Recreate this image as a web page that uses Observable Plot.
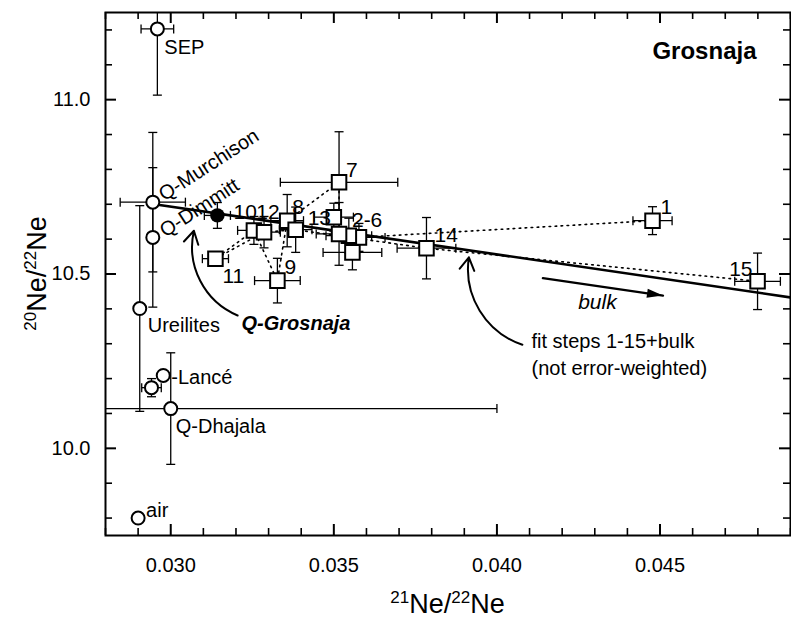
<!DOCTYPE html>
<html>
<head>
<meta charset="utf-8">
<script src="https://cdn.jsdelivr.net/npm/d3@7"></script>
<script src="https://cdn.jsdelivr.net/npm/@observablehq/plot@0.6"></script>
<style>
  body { margin: 0; background: #fff; }
  svg { display: block; }
</style>
</head>
<body>
<div id="chart"></div>
<script>
// Reference neon compositions (open circles)
const refName  = ["SEP", "Q-Murchison", "Q-Dimmitt", "Ureilites", "Lancé", "", "Q-Dhajala", "air"];
const refX21   = [0.02959, 0.02945, 0.02945, 0.02905, 0.02977, 0.02941, 0.03000, 0.02900];
const refY20   = [11.203, 10.706, 10.605, 10.401, 10.209, 10.174, 10.114, 9.800];
const refErrX  = [0.0005, 0.0010, 0, 0, 0, 0.0003, 0.0100, 0];
const refErrY  = [0.19, 0.20, 0.20, 0.295, 0, 0.026, 0.16, 0];

// Grosnaja stepwise heating, steps 1-15 (open squares)
const stepNo   = [1, 2, 3, 4, 5, 6, 7, 8, 9, 10, 11, 12, 13, 14, 15];
const stepX21  = [0.04477, 0.03577, 0.03546, 0.03557, 0.03500, 0.03516, 0.03516, 0.03357, 0.03327, 0.03255, 0.03137, 0.03286, 0.03383, 0.03784, 0.04799];
const stepY20  = [10.653, 10.605, 10.610, 10.562, 10.663, 10.615, 10.763, 10.653, 10.481, 10.625, 10.544, 10.620, 10.627, 10.574, 10.479];
const stepErrX = [0.0006, 0.0008, 0.0007, 0.0009, 0.0006, 0.0007, 0.0018, 0.0005, 0.0007, 0.0005, 0.0004, 0.0005, 0.0005, 0.0009, 0.0007];
const stepErrY = [0.040, 0.040, 0.050, 0.050, 0.040, 0.090, 0.145, 0.075, 0.064, 0.040, 0.020, 0.045, 0.065, 0.088, 0.081];

// Step labels ("2-6" marks the cluster of steps 2 to 6)
const stepLabelText = ["1", "2-6", "7", "8", "9", "10", "11", "12", "13", "14", "15"];
const stepLabelStep = [1, 2, 7, 8, 9, 10, 11, 12, 13, 14, 15];

// Q-Grosnaja (filled circle)
const qGrosX21 = 0.03143, qGrosY20 = 10.668, qGrosErrX = 0.0004, qGrosErrY = 0.037;

// Line fitted through steps 1-15 + bulk
const fitX21 = [0.0295, 0.0495];
const fitY20 = [10.700, 10.426];

// Arrow pointing towards the bulk composition
const bulkArrowX21 = [0.04141, 0.04509];
const bulkArrowY20 = [10.488, 10.438];

// Axis ticks
const xMajor = [0.030, 0.035, 0.040, 0.045];
const xMinor = [0.028, 0.029, 0.031, 0.032, 0.033, 0.034, 0.036, 0.037, 0.038, 0.039, 0.041, 0.042, 0.043, 0.044, 0.046, 0.047, 0.048, 0.049];
const yMajor = [10.0, 10.5, 11.0];
const yMinor = [9.8, 9.9, 10.1, 10.2, 10.3, 10.4, 10.6, 10.7, 10.8, 10.9, 11.1, 11.2];

// ---- layout & styling ----
const W = 791, H = 619;
const M = {left: 105, right: 1, top: 12, bottom: 84};
const frameW = W - M.left - M.right, frameH = H - M.top - M.bottom;
const xDomain = [0.028, 0.049], yDomain = [9.75, 11.25];
const FONT = "'Liberation Sans', Arial, Helvetica, sans-serif";

const refLabelStyle = {
  "SEP":         {dx: 7,  dy: 19, anchor: "start"},
  "Q-Murchison": {dx: 8,  dy: -6, anchor: "start", rotate: -33},
  "Q-Dimmitt":   {dx: 9,  dy: -5, anchor: "start", rotate: -33},
  "Ureilites":   {dx: 8,  dy: 17, anchor: "start"},
  "Lancé":       {dx: 8,  dy: 2,  anchor: "start", prefix: "-"},
  "Q-Dhajala":   {dx: 5,  dy: 18, anchor: "start"},
  "air":         {dx: 8,  dy: -7, anchor: "start"}
};
const stepLabelStyle = {
  "1":   {dx: 8,  dy: -13, anchor: "start"},
  "2-6": {dx: -7, dy: -17, anchor: "start"},
  "7":   {dx: 7,  dy: -12, anchor: "start"},
  "8":   {dx: 5,  dy: -13, anchor: "start"},
  "9":   {dx: 7,  dy: -13, anchor: "start"},
  "10":  {dx: 3,  dy: -18, anchor: "end"},
  "11":  {dx: 7,  dy: 18,  anchor: "start"},
  "12":  {dx: 4,  dy: -20, anchor: "middle"},
  "13":  {dx: 12, dy: -11, anchor: "start"},
  "14":  {dx: 8,  dy: -13, anchor: "start"},
  "15":  {dx: -5, dy: -12, anchor: "end"}
};

// ---- assemble records ----
const refs = refName.map((name, i) => ({name, x: refX21[i], y: refY20[i], ex: refErrX[i], ey: refErrY[i]}));
const steps = stepNo.map((n, i) => ({n, x: stepX21[i], y: stepY20[i], ex: stepErrX[i], ey: stepErrY[i]}));
const qg = {x: qGrosX21, y: qGrosY20, ex: qGrosErrX, ey: qGrosErrY};
const all = [...refs, ...steps, qg];
const withEx = all.filter(d => d.ex > 0);
const withEy = all.filter(d => d.ey > 0);
const fit = fitX21.map((x, i) => ({x, y: fitY20[i]}));
const bulkArrow = bulkArrowX21.map((x, i) => ({x, y: bulkArrowY20[i]}));

// error-bar caps and arrow head as custom symbols
const capH = {draw(c) { c.moveTo(-4.5, 0); c.lineTo(4.5, 0); }};
const capV = {draw(c) { c.moveTo(0, -4.5); c.lineTo(0, 4.5); }};
const head = {draw(c) { c.moveTo(0, 0); c.lineTo(-16, -4.5); c.lineTo(-16, 4.5); c.closePath(); }};
const pxX = frameW / (xDomain[1] - xDomain[0]), pxY = frameH / (yDomain[1] - yDomain[0]);
const headAngle = Math.atan2(-(bulkArrow[1].y - bulkArrow[0].y) * pxY, (bulkArrow[1].x - bulkArrow[0].x) * pxX) * 180 / Math.PI;

// annotation texts
const annotations = [
  {text: "Q-Grosnaja", x: 0.03217, y: 10.358, style: "italic", weight: "bold", anchor: "start", size: 20},
  {text: "bulk", x: 0.04308, y: 10.418, style: "italic", weight: "normal", anchor: "middle", size: 21},
  {text: "fit steps 1-15+bulk", x: 0.04106, y: 10.306, style: "normal", weight: "normal", anchor: "start", size: 20},
  {text: "(not error-weighted)", x: 0.04106, y: 10.229, style: "normal", weight: "normal", anchor: "start", size: 20}
];
const curvedArrows = [
  {x1: 0.03205, y1: 10.381, x2: 0.03071, y2: 10.624},
  {x1: 0.04078, y1: 10.297, x2: 0.03914, y2: 10.548}
];

const marks = [
  // inward ticks on all four sides
  Plot.ruleX(xMinor, {x: d => d, insetTop: frameH - 7, strokeWidth: 1.6}),
  Plot.ruleX(xMajor, {x: d => d, insetTop: frameH - 11, strokeWidth: 2}),
  Plot.ruleX(xMinor, {x: d => d, insetBottom: frameH - 7, strokeWidth: 1.6}),
  Plot.ruleX(xMajor, {x: d => d, insetBottom: frameH - 11, strokeWidth: 2}),
  Plot.ruleY(yMinor, {y: d => d, insetRight: frameW - 7, strokeWidth: 1.6}),
  Plot.ruleY(yMajor, {y: d => d, insetRight: frameW - 11, strokeWidth: 2}),
  Plot.ruleY(yMinor, {y: d => d, insetLeft: frameW - 7, strokeWidth: 1.6}),
  Plot.ruleY(yMajor, {y: d => d, insetLeft: frameW - 11, strokeWidth: 2}),
  Plot.axisX({ticks: xMajor, tickSize: 0, tickPadding: 22, tickFormat: d => d.toFixed(3), label: null, fontSize: 20}),
  Plot.axisY({ticks: yMajor, tickSize: 0, tickPadding: 15, tickFormat: d => d.toFixed(1), label: null, fontSize: 20}),

  // error bars
  Plot.link(withEx, {x1: d => d.x - d.ex, x2: d => d.x + d.ex, y1: "y", y2: "y", stroke: "black", strokeWidth: 1.3, clip: true}),
  Plot.link(withEy, {x1: "x", x2: "x", y1: d => d.y - d.ey, y2: d => d.y + d.ey, stroke: "black", strokeWidth: 1.3, clip: true}),
  Plot.dot(withEx.flatMap(d => [{x: d.x - d.ex, y: d.y}, {x: d.x + d.ex, y: d.y}]),
    {x: "x", y: "y", symbol: capV, fill: "none", stroke: "black", strokeWidth: 1.3, clip: true}),
  Plot.dot(withEy.flatMap(d => [{x: d.x, y: d.y - d.ey}, {x: d.x, y: d.y + d.ey}]),
    {x: "x", y: "y", symbol: capH, fill: "none", stroke: "black", strokeWidth: 1.3, clip: true}),

  // dotted path joining the heating steps in order
  Plot.line(steps, {x: "x", y: "y", stroke: "black", strokeWidth: 1.6, strokeDasharray: "1.6 4.4", clip: true}),

  // fit line
  Plot.line(fit, {x: "x", y: "y", stroke: "black", strokeWidth: 2.6, clip: true}),

  // bulk arrow
  Plot.line(bulkArrow, {x: "x", y: "y", stroke: "black", strokeWidth: 2.4}),
  Plot.dot([bulkArrow[1]], {x: "x", y: "y", symbol: head, fill: "black", stroke: "none", rotate: headAngle}),

  // curved annotation arrows
  Plot.arrow(curvedArrows, {x1: "x1", y1: "y1", x2: "x2", y2: "y2", bend: 40, stroke: "black", strokeWidth: 2, headLength: 11}),

  // markers
  Plot.dot(steps, {x: "x", y: "y", symbol: "square", r: 8.2, fill: "white", stroke: "black", strokeWidth: 2}),
  Plot.dot(refs, {x: "x", y: "y", r: 6.5, fill: "white", stroke: "black", strokeWidth: 2}),
  Plot.dot([qg], {x: "x", y: "y", r: 7.2, fill: "black"}),

  // panel title
  Plot.text(["Grosnaja"], {frameAnchor: "top-right", text: d => d, dx: -34, dy: 39, textAnchor: "end", lineAnchor: "middle", fontWeight: "bold", fontSize: 24}),

  // reference labels
  ...refs.filter(d => d.name).map(d => {
    const s = refLabelStyle[d.name];
    return Plot.text([d], {x: "x", y: "y", text: e => (s.prefix || "") + e.name, dx: s.dx, dy: s.dy,
      textAnchor: s.anchor, lineAnchor: "middle", rotate: s.rotate || 0, fontSize: 20});
  }),

  // step labels
  ...stepLabelText.map((t, i) => {
    const s = stepLabelStyle[t];
    const d = steps.find(e => e.n === stepLabelStep[i]);
    return Plot.text([d], {x: "x", y: "y", text: () => t, dx: s.dx, dy: s.dy, textAnchor: s.anchor, lineAnchor: "middle", fontSize: 21});
  }),

  // annotation texts
  ...annotations.map(a => Plot.text([a], {x: "x", y: "y", text: "text", textAnchor: a.anchor, lineAnchor: "middle",
    fontStyle: a.style, fontWeight: a.weight, fontSize: a.size})),

  Plot.frame({stroke: "black", strokeWidth: 2})
];

const svgNode = Plot.plot({
  width: W, height: H,
  marginLeft: M.left, marginRight: M.right, marginTop: M.top, marginBottom: M.bottom,
  x: {domain: xDomain, axis: null},
  y: {domain: yDomain, axis: null},
  style: {fontFamily: FONT, fontSize: "20px", color: "black", background: "white", overflow: "visible"},
  marks
});

// axis titles with superscript mass numbers
const svg = d3.select(svgNode);
function isotopeTitle(g, top, bottom) {
  const t = g.append("text").attr("text-anchor", "middle").attr("font-size", 27).attr("fill", "black");
  t.append("tspan").attr("font-size", 17).attr("dy", -10).text(top);
  t.append("tspan").attr("dy", 10).text("Ne/");
  t.append("tspan").attr("font-size", 17).attr("dy", -10).text(bottom);
  t.append("tspan").attr("dy", 10).text("Ne");
  return t;
}
isotopeTitle(svg.append("g").attr("transform", `translate(${M.left + frameW / 2},613)`), "21", "22");
isotopeTitle(svg.append("g").attr("transform", `translate(46,${M.top + frameH / 2}) rotate(-90)`), "20", "22");

document.getElementById("chart").append(svgNode);
</script>
</body>
</html>
